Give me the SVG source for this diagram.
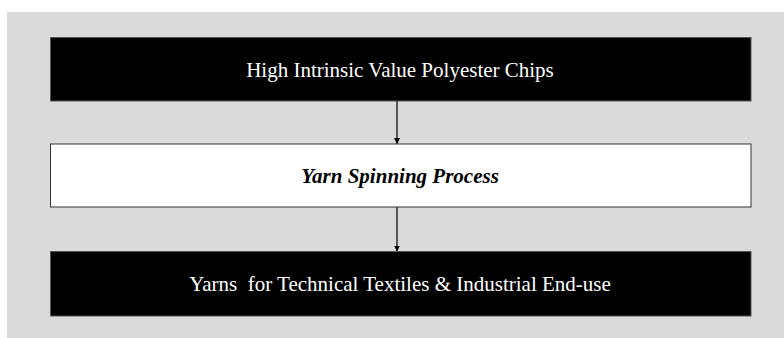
<svg xmlns="http://www.w3.org/2000/svg" width="784" height="338" viewBox="0 0 784 338">
<defs>
<style>
.dark{fill:#000;stroke:#555;stroke-width:1}
.light{fill:#fff;stroke:#333;stroke-width:1}
.t{font-family:"Liberation Serif","Times New Roman",serif;font-size:21px;text-anchor:middle}
.tw{fill:#fff}
.tb{fill:#000;font-weight:bold;font-style:italic}
.conn{stroke:#000;stroke-width:1.2;fill:none;marker-end:url(#ah)}
</style>
<marker id="ah" viewBox="0 0 10 10" refX="10" refY="5" markerWidth="6" markerHeight="6" markerUnits="userSpaceOnUse" orient="auto">
<path d="M0,0 L10,5 L0,10 z" fill="#000"/>
</marker>
</defs>
<rect x="0" y="0" width="784" height="338" fill="#fff"/>
<rect x="7" y="12" width="777" height="326" fill="#dadada"/>
<g id="connectors">
<line class="conn" x1="397" y1="101" x2="397" y2="144"/>
<line class="conn" x1="397" y1="207" x2="397" y2="251.5"/>
</g>
<g id="node-chips">
<rect class="dark" x="50.5" y="37.5" width="700.5" height="63.5"/>
<text class="t tw" x="400" y="76.5">High Intrinsic Value Polyester Chips</text>
</g>
<g id="node-spinning">
<rect class="light" x="50.5" y="144" width="700.5" height="63"/>
<text class="t tb" x="400" y="182.5">Yarn Spinning Process</text>
</g>
<g id="node-yarns">
<rect class="dark" x="50.5" y="251.5" width="700.5" height="64.5"/>
<text class="t tw" x="400" y="291" xml:space="preserve">Yarns  for Technical Textiles &amp; Industrial End-use</text>
</g>
</svg>
